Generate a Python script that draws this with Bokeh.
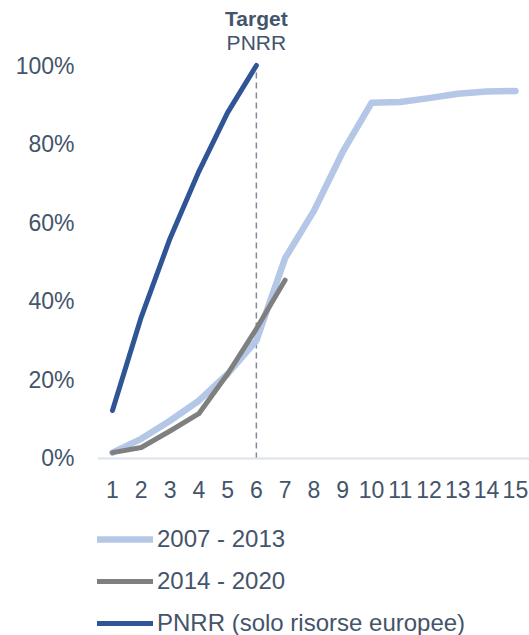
from bokeh.plotting import figure
from bokeh.models import Legend, LegendItem, FixedTicker, PrintfTickFormatter, ColumnDataSource
from bokeh.core.properties import value
from bokeh.embed import file_html
from bokeh.resources import INLINE

# Data
years_0713 = [1, 2, 3, 4, 5, 6, 7, 8, 9, 10, 11, 12, 13, 14, 15]
vals_0713 = [1.5, 5.0, 9.6, 14.7, 21.5, 30.0, 51.0, 63.0, 78.0, 90.5, 90.7, 91.7, 92.8, 93.4, 93.5]
years_1420 = [1, 2, 3, 4, 5, 6, 7]
vals_1420 = [1.5, 2.8, 7.0, 11.4, 21.5, 33.0, 45.4]
years_pnrr = [1, 2, 3, 4, 5, 6]
vals_pnrr = [12.2, 36.0, 56.0, 73.0, 88.0, 100.0]
x_ticks = list(range(1, 16))
y_ticks = [0, 20, 40, 60, 80, 100]
target_year = 6
target_value = 100
target_labels = ["Target", "PNRR"]
legend_labels = ["2007 - 2013", "2014 - 2020", "PNRR (solo risorse europee)"]

TEXT = "#44546A"
FONT = "Liberation Sans"

p = figure(width=529, height=635, output_backend="svg", toolbar_location=None,
           x_range=(0.48, 15.49), y_range=(-45.04, 116.54),
           min_border_left=97, min_border_right=0, min_border_top=0, min_border_bottom=0)
p.outline_line_color = None
p.grid.visible = False
p.background_fill_color = "white"
p.border_fill_color = "white"

# Axes
p.xaxis.fixed_location = 0
p.xaxis.ticker = FixedTicker(ticks=x_ticks)
p.xaxis.axis_line_color = "#DCE2EA"
p.xaxis.axis_line_width = 2
p.xaxis.major_tick_line_color = None
p.xaxis.minor_tick_line_color = None
p.xaxis.major_label_text_font_size = "23px"
p.xaxis.major_label_text_color = TEXT
p.xaxis.major_label_text_font = FONT
p.xaxis.major_label_standoff = 17

p.yaxis.ticker = FixedTicker(ticks=y_ticks)
p.yaxis.formatter = PrintfTickFormatter(format="%d%%")
p.yaxis.axis_line_color = None
p.yaxis.major_tick_line_color = None
p.yaxis.minor_tick_line_color = None
p.yaxis.major_label_text_font_size = "23px"
p.yaxis.major_label_text_color = TEXT
p.yaxis.major_label_text_font = FONT
p.yaxis.major_label_standoff = 17

# Target dashed line
p.segment(x0=[target_year], y0=[0], x1=[target_year], y1=[target_value],
          line_color="#7F8B9B", line_width=1.5, line_dash="6 4")

r1 = p.line(years_0713, vals_0713, line_color="#B4C7E7", line_width=6.5, line_cap="round", line_join="round")
r2 = p.line(years_1420, vals_1420, line_color="#7F7F7F", line_width=5, line_cap="round", line_join="round")
r3 = p.line(years_pnrr, vals_pnrr, line_color="#2F5597", line_width=5, line_cap="round", line_join="round")

src = ColumnDataSource(dict(x=[target_year, target_year], y=[target_value, target_value],
                            t=target_labels, off=[-47, -23],
                            st=["bold", "normal"]))
p.text(x="x", y="y", text="t", y_offset="off", text_font_style="st", source=src,
       text_align="center", text_baseline="middle", text_font=value(FONT),
       text_font_size="21px", text_color=TEXT)

legend = Legend(items=[LegendItem(label=legend_labels[0], renderers=[r1]),
                       LegendItem(label=legend_labels[1], renderers=[r2]),
                       LegendItem(label=legend_labels[2], renderers=[r3])],
                location=(0, -2), orientation="vertical")
legend.border_line_color = None
legend.background_fill_alpha = 0
legend.label_text_font = FONT
legend.label_text_font_size = "24px"
legend.label_text_color = TEXT
legend.glyph_width = 56
legend.glyph_height = 20
legend.label_standoff = 4
legend.spacing = 14
legend.padding = 0
legend.margin = 0
legend.label_height = 20
p.add_layout(legend)

open("out.html", "w").write(file_html(p, INLINE))
